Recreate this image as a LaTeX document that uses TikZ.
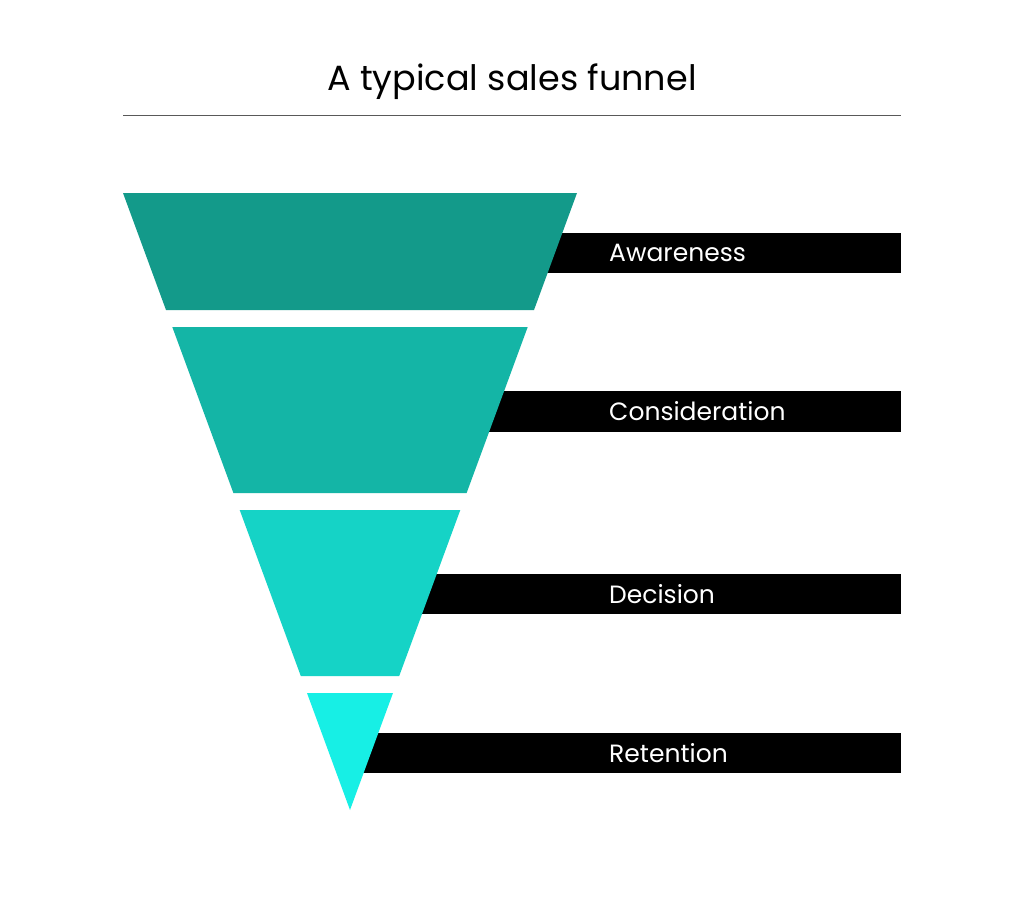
\documentclass[tikz,border=0pt]{standalone}
\usepackage{fontspec}
\setmainfont{Poppins}
\definecolor{c1}{HTML}{139A8A}
\definecolor{c2}{HTML}{14B5A6}
\definecolor{c3}{HTML}{15D3C6}
\definecolor{c4}{HTML}{17EFE5}
\tikzset{bar/.style={fill=black},lab/.style={anchor=west,text=white,font=\fontsize{25}{28}\selectfont,inner sep=0pt}}
\begin{document}
\begin{tikzpicture}[x=1pt,y=-1pt]
\fill[white] (0,0) rectangle (1024,923);
\useasboundingbox (0,0) rectangle (1024,923);
\node[font=\fontsize{35}{40}\selectfont] (title) at (512,82) {A typical sales funnel};
\draw[gray!70!black,line width=0.8pt] (123,115) -- (901,115);
\fill[bar] (450,233) rectangle (901,273);
\fill[bar] (400,391) rectangle (901,432);
\fill[bar] (380,574) rectangle (901,614);
\fill[bar] (340,733) rectangle (901,773);
\node[lab] (a) at (609,253) {Awareness};
\node[lab] (b) at (609,411) {Consideration};
\node[lab] (c) at (609,594) {Decision};
\node[lab] (d) at (609,753) {Retention};
\fill[c1] (123,193) -- (577,193) -- (534,310) -- (166,310) -- cycle;
\fill[c2] (172.3,327) -- (527.7,327) -- (466.6,493) -- (233.4,493) -- cycle;
\fill[c3] (239.7,510) -- (460.3,510) -- (399.2,676) -- (300.8,676) -- cycle;
\fill[c4] (307,693) -- (393,693) -- (350,810) -- cycle;
\end{tikzpicture}
\end{document}
